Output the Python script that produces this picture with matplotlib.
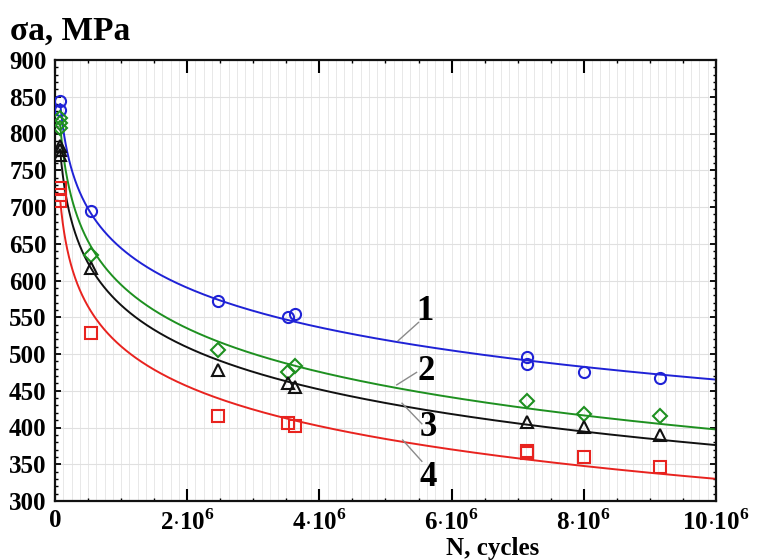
import numpy as np
import matplotlib
matplotlib.use("Agg")
import matplotlib.pyplot as plt
from matplotlib.ticker import MultipleLocator, FixedLocator

plt.rcParams["font.family"] = ["Liberation Serif", "DejaVu Serif"]
plt.rcParams["font.weight"] = "bold"
plt.rcParams["mathtext.fontset"] = "custom"
plt.rcParams["mathtext.rm"] = "Liberation Serif:bold"
plt.rcParams["mathtext.bf"] = "Liberation Serif:bold"

# ==========================================================
# Data
# ==========================================================

n_blue = [0.08e6, 0.08e6, 0.54e6, 2.46e6, 3.53e6, 3.63e6, 7.14e6, 7.14e6, 8.0e6, 9.15e6]
s_blue = [844, 832, 695, 572, 550, 555, 496, 487, 475, 467]

n_green = [0.08e6, 0.08e6, 0.08e6, 0.54e6, 2.46e6, 3.53e6, 3.63e6, 7.14e6, 8.0e6, 9.15e6]
s_green = [821, 814, 807, 635, 506, 476, 483, 436, 419, 415]

n_black = [0.08e6, 0.08e6, 0.08e6, 0.54e6, 2.46e6, 3.53e6, 3.63e6, 7.14e6, 8.0e6, 9.15e6]
s_black = [783, 777, 771, 617, 478, 460, 455, 407, 401, 390]

n_red = [0.08e6, 0.08e6, 0.08e6, 0.54e6, 2.46e6, 3.53e6, 3.63e6, 7.14e6, 7.14e6, 8.0e6, 9.15e6]
s_red = [726, 716, 708, 529, 416, 406, 402, 368, 365, 360, 346]

series = [
    ("1", n_blue, s_blue, "#1f22d6", "o"),
    ("2", n_green, s_green, "#1e9020", "D"),
    ("3", n_black, s_black, "#111111", "^"),
    ("4", n_red, s_red, "#e8231f", "s"),
]

# curve labels: text centre, leader line start (on curve) and end (at text)
label_text_xy = [(5.6e6, 558), (5.61e6, 476), (5.65e6, 400), (5.65e6, 332)]
label_line_start = [(5.19e6, 518), (5.17e6, 458), (5.25e6, 433), (5.26e6, 383)]
label_line_end = [(5.5e6, 543), (5.47e6, 475), (5.55e6, 405), (5.55e6, 354)]

x_ticks = [0, 2e6, 4e6, 6e6, 8e6, 10e6]
x_tick_labels = ["0", r"$2{\cdot}10^{6}$", r"$4{\cdot}10^{6}$", r"$6{\cdot}10^{6}$",
                 r"$8{\cdot}10^{6}$", r"$10{\cdot}10^{6}$"]
y_ticks = list(range(300, 901, 50))

# ==========================================================
# Figure
# ==========================================================

fig = plt.figure(figsize=(7.57, 5.6), dpi=100)
ax = fig.add_axes([55 / 757, 1 - 501 / 560, 661 / 757, 441 / 560])

ax.set_xlim(0, 10e6)
ax.set_ylim(300, 900)

# light grid
for gx in np.arange(0, 10e6, 0.125e6)[1:]:
    ax.axvline(gx, color="#e8e8e8", lw=0.7, zorder=0)
for gy in y_ticks[1:-1]:
    ax.axhline(gy, color="#e0e0e0", lw=0.8, zorder=0)

for name, n, s, color, marker in series:
    n = np.array(n)
    s = np.array(s)
    # logarithmic fit  s = a + c * ln(N)
    c, a = np.polyfit(np.log(n), s, 1)
    nn = np.geomspace(n.min(), 10e6, 500)
    ax.plot(nn, a + c * np.log(nn), color=color, lw=1.4, zorder=2)
    ax.plot(n, s, linestyle="none", marker=marker, markersize=8 if marker != "D" else 7,
            markerfacecolor="none", markeredgecolor=color, markeredgewidth=1.5, zorder=3)

for (name, *_), txy, p0, p1 in zip(series, label_text_xy, label_line_start, label_line_end):
    ax.plot([p0[0], p1[0]], [p0[1], p1[1]], color="#8a8a8a", lw=1.0, zorder=2)
    ax.text(txy[0], txy[1], name, fontsize=25, fontweight="bold",
            ha="center", va="center", zorder=4)

ax.xaxis.set_major_locator(FixedLocator(x_ticks))
ax.xaxis.set_minor_locator(MultipleLocator(0.5e6))
ax.yaxis.set_major_locator(FixedLocator(y_ticks))
ax.yaxis.set_minor_locator(MultipleLocator(10))

ax.set_xticklabels(x_tick_labels)
ax.set_yticklabels([str(v) for v in y_ticks])

ax.tick_params(which="major", direction="in", length=4, width=1.3,
               top=True, right=True, labelsize=18, pad=6)
ax.tick_params(axis="x", which="major", length=9, width=1.5)
ax.tick_params(which="minor", direction="in", length=2, width=1.0,
               top=True, right=True)

for lab in ax.get_xticklabels() + ax.get_yticklabels():
    lab.set_fontweight("bold")

for sp in ax.spines.values():
    sp.set_linewidth(1.6)
    sp.set_color("#111111")

fig.text(10 / 757, 1 - 31 / 560, "σa, MPa", fontsize=24, fontweight="bold",
         ha="left", va="center")
fig.text(493 / 757, 1 - 548 / 560, "N, cycles", fontsize=18, fontweight="bold",
         ha="center", va="center")

fig.savefig("out.png", dpi=100)
